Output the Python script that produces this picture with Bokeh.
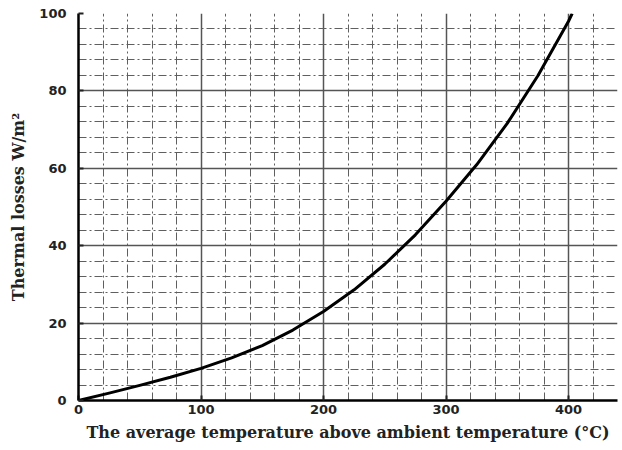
from bokeh.plotting import figure
from bokeh.models import FixedTicker, Range1d
from bokeh.embed import file_html
from bokeh.resources import INLINE

# Data
temp = [0, 25, 50, 75, 100, 125, 150, 175, 200, 225, 250, 275, 300, 325, 350, 375, 400, 403]
loss = [0, 1.9, 3.9, 6.0, 8.3, 11.0, 14.2, 18.2, 23.0, 28.6, 35.2, 42.8, 51.5, 60.9, 71.6, 83.9, 98.0, 100.0]

x_major = [0, 100, 200, 300, 400]
x_minor = [20, 40, 60, 80, 120, 140, 160, 180, 220, 240, 260, 280, 320, 340, 360, 380, 420, 440]
y_major = [0, 20, 40, 60, 80, 100]
y_minor = [4, 8, 12, 16, 24, 28, 32, 36, 44, 48, 52, 56, 64, 68, 72, 76, 84, 88, 92, 96]

x_label = "The average temperature above ambient temperature (°C)"
y_label = "Thermal losses W/m²"

p = figure(width=622, height=450, output_backend="svg", toolbar_location=None,
           x_range=Range1d(0, 440), y_range=Range1d(0, 100),
           min_border_left=78, min_border_right=5, min_border_top=13, min_border_bottom=50)
p.outline_line_color = None
p.background_fill_color = "white"
p.border_fill_color = "white"

p.xaxis.ticker = FixedTicker(ticks=x_major, minor_ticks=x_minor)
p.yaxis.ticker = FixedTicker(ticks=y_major, minor_ticks=y_minor)

for g in (p.xgrid, p.ygrid):
    g.grid_line_color = "#555555"
    g.grid_line_width = 1.5
    g.minor_grid_line_color = "#5f5f5f"
    g.minor_grid_line_width = 1
    g.minor_grid_line_dash = "8 3 2 3"

for ax in (p.xaxis, p.yaxis):
    ax.axis_line_color = "black"
    ax.axis_line_width = 2.5
    ax.major_tick_in = 5
    ax.major_tick_out = 0
    ax.major_tick_line_width = 2
    ax.major_tick_line_color = "#222222"
    ax.minor_tick_in = 0
    ax.minor_tick_out = 0
    ax.major_label_text_font = "DejaVu Sans"
    ax.major_label_text_font_style = "bold"
    ax.major_label_text_font_size = "13px"
    ax.major_label_text_color = "#222222"
    ax.axis_label_text_font = "DejaVu Serif"
    ax.axis_label_text_font_style = "bold"
    ax.axis_label_text_color = "#222222"

p.xaxis.axis_label = x_label
p.xaxis.axis_label_text_font_size = "16px"
p.xaxis.axis_label_standoff = 6
p.xaxis.major_label_standoff = 4
p.yaxis.axis_label = y_label
p.yaxis.axis_label_text_font_size = "16px"
p.yaxis.axis_label_standoff = 8
p.yaxis.major_label_standoff = 12

p.line(temp, loss, line_color="black", line_width=3, line_join="round")

open("out.html", "w").write(file_html(p, INLINE))
